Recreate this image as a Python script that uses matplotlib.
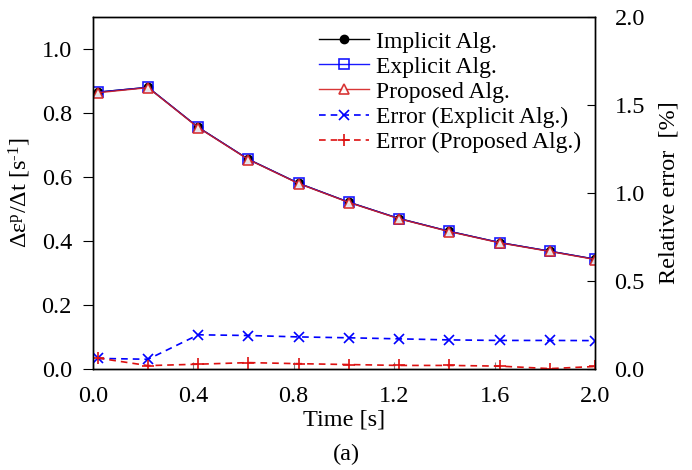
import matplotlib
matplotlib.use("Agg")
import matplotlib.pyplot as plt

plt.rcParams['font.family'] = ['Liberation Serif', 'DejaVu Serif']
plt.rcParams['mathtext.fontset'] = 'custom'
plt.rcParams['mathtext.rm'] = 'Liberation Serif'
plt.rcParams['mathtext.it'] = 'Liberation Serif:italic'

time = [0.02, 0.22, 0.42, 0.62, 0.82, 1.02, 1.22, 1.42, 1.62, 1.82, 2.0]
implicit = [0.865, 0.880, 0.755, 0.655, 0.580, 0.521, 0.470, 0.430, 0.395, 0.368, 0.343]
explicit = [0.865, 0.880, 0.755, 0.655, 0.580, 0.521, 0.470, 0.430, 0.395, 0.368, 0.343]
proposed = [0.863, 0.879, 0.754, 0.654, 0.579, 0.520, 0.469, 0.429, 0.394, 0.367, 0.342]
err_explicit = [0.060, 0.055, 0.194, 0.190, 0.182, 0.177, 0.171, 0.165, 0.162, 0.162, 0.161]
err_proposed = [0.062, 0.019, 0.027, 0.036, 0.030, 0.025, 0.020, 0.020, 0.016, 0.002, 0.014]

fig = plt.figure(figsize=(6.92, 4.70), dpi=100)
ax = fig.add_axes([0.134, 0.215, 0.726, 0.749])
ax2 = ax.twinx()

l1, = ax.plot(time, implicit, color='black', lw=1.0, marker='o', ms=6, label='Implicit Alg.')
l2, = ax.plot(time, explicit, color='blue', lw=1.0, marker='s', ms=7.5, mfc='none', mew=1.2, label='Explicit Alg.', alpha=0.9)
l3, = ax.plot(time, proposed, color='#d42020', lw=1.0, marker='^', ms=7, mfc='white', mew=1.2, label='Proposed Alg.', alpha=0.9)
l4, = ax2.plot(time, err_explicit, color='blue', lw=1.2, ls='--', dashes=(4, 3), marker='x', ms=7, mew=1.2, label='Error (Explicit Alg.)')
l5, = ax2.plot(time, err_proposed, color='#dd1111', lw=1.2, ls='--', dashes=(4, 3), marker='+', ms=8, mew=1.2, label='Error (Proposed Alg.)')

ax.set_xlim(0, 2.0)
ax.set_ylim(0, 1.1)
ax2.set_ylim(0, 2.0)
ax.set_xticks([0.0, 0.4, 0.8, 1.2, 1.6, 2.0])
ax.set_xticklabels(['0.0', '0.4', '0.8', '1.2', '1.6', '2.0'])
ax.set_yticks([0.0, 0.2, 0.4, 0.6, 0.8, 1.0])
ax.set_yticklabels(['0.0', '0.2', '0.4', '0.6', '0.8', '1.0'])
ax2.set_yticks([0.0, 0.5, 1.0, 1.5, 2.0])
ax2.set_yticklabels(['0.0', '0.5', '1.0', '1.5', '2.0'])

ax.tick_params(axis='x', direction='in', length=5, labelsize=17.5, pad=12, color='gray')
ax.tick_params(axis='y', direction='out', length=7, labelsize=17.5, pad=8)
ax2.tick_params(axis='y', direction='in', length=6, labelsize=17.5, pad=14)

ax.set_xlabel('Time [s]', fontsize=17.5, labelpad=2)
ax.set_ylabel('Δε$^{\\rm p}$/Δt [s$^{\\text{-}1}$]', fontsize=17.5, labelpad=6)
ax2.set_ylabel('Relative error  [%]', fontsize=17.5, labelpad=10)

for a in (ax, ax2):
    for s in a.spines.values():
        s.set_linewidth(1.0)

ax.legend(handles=[l1, l2, l3, l4, l5], loc='upper right', frameon=False, fontsize=17,
          handlelength=2.1, handletextpad=0.3, labelspacing=0.15, borderaxespad=0.2,
          bbox_to_anchor=(1.0, 1.0))

fig.text(0.50, 0.01, '(a)', ha='center', va='bottom', fontsize=17.5)

fig.savefig('out.png', dpi=100)
